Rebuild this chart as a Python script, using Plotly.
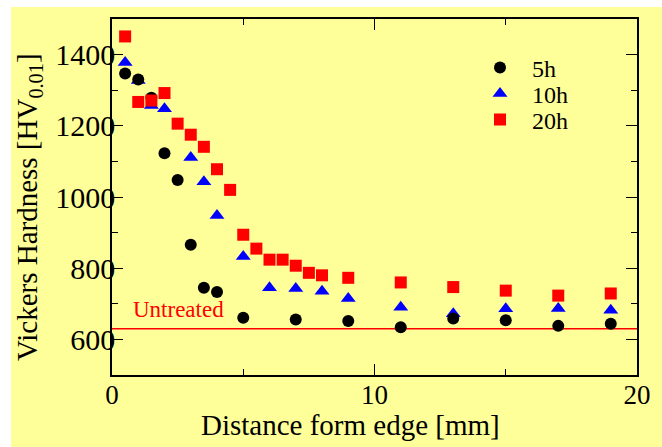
import plotly.graph_objects as go

# Data
x_5h = [0.5, 1, 1.5, 2, 2.5, 3, 3.5, 4, 5, 7, 9, 11, 13, 15, 17, 19]
y_5h = [1347, 1330, 1279, 1123, 1048, 866, 745, 733, 661, 656, 652, 634, 659, 654, 638, 644]

x_10h = [0.5, 1, 1.5, 2, 3, 3.5, 4, 5, 6, 7, 8, 9, 11, 13, 15, 17, 19]
y_10h = [1378, 1327, 1257, 1248, 1111, 1043, 948, 833, 745, 743, 735, 715, 690, 672, 686, 687, 682]

x_20h = [0.5, 1, 1.5, 2, 2.5, 3, 3.5, 4, 4.5, 5, 5.5, 6, 6.5, 7, 7.5, 8, 9, 11, 13, 15, 17, 19]
y_20h = [1451, 1267, 1271, 1292, 1206, 1175, 1141, 1078, 1020, 894, 855, 824, 824, 807, 787, 780, 773,
         760, 747, 737, 723, 729]

untreated_x = [0, 20]
untreated_value = 630

x_ticks = [0, 10, 20]
y_ticks = [600, 800, 1000, 1200, 1400]

FONT = "Liberation Serif"
BG = "#FFFF99"

fig = go.Figure()

fig.add_trace(go.Scatter(x=untreated_x, y=[untreated_value] * len(untreated_x), mode="lines",
                         line=dict(color="#FF0000", width=1.5), showlegend=False, hoverinfo="skip"))
fig.add_trace(go.Scatter(x=x_10h, y=y_10h, mode="markers", name="10h", legend="legend2",
                         marker=dict(symbol="triangle-up", size=13, color="#0000FF")))
fig.add_trace(go.Scatter(x=x_5h, y=y_5h, mode="markers", name="5h", legend="legend",
                         marker=dict(symbol="circle", size=12, color="black")))
fig.add_trace(go.Scatter(x=x_20h, y=y_20h, mode="markers", name="20h", legend="legend3",
                         marker=dict(symbol="square", size=12, color="#FF0000")))

axis_common = dict(showline=True, linecolor="black", linewidth=1.5, mirror="ticks",
                   ticks="inside", ticklen=11, tickwidth=1.2, tickcolor="black",
                   showgrid=False, zeroline=False)

fig.update_xaxes(range=[0, 20], tickvals=x_ticks, ticklabelstandoff=-5,
                 tickfont=dict(family=FONT, size=27, color="black"),
                 minor=dict(ticks="inside", ticklen=6, dtick=5, tick0=0, tickcolor="black", showgrid=False),
                 **axis_common)
fig.update_yaxes(range=[500, 1500], tickvals=y_ticks, ticklabelstandoff=-11,
                 tickfont=dict(family=FONT, size=30, color="black"),
                 minor=dict(ticks="inside", ticklen=6, dtick=100, tick0=500, tickcolor="black", showgrid=False),
                 **axis_common)

fig.add_annotation(x=0.72, y=684, xref="x", yref="y", text="Untreated", showarrow=False,
                   xanchor="left", yanchor="middle", font=dict(family=FONT, size=23, color="#FF0000"))
fig.add_annotation(x=(350 - 112) / 525, y=(375 - 425) / 356, xref="paper", yref="paper",
                   text="Distance form edge [mm]",
                   showarrow=False, xanchor="center", yanchor="middle",
                   font=dict(family=FONT, size=29, color="black"))
fig.add_annotation(x=(29 - 112) / 525, y=(375 - 207) / 356, xref="paper", yref="paper",
                   text="Vickers Hardness [HV<sub>0.01</sub>]", textangle=-90,
                   showarrow=False, xanchor="center", yanchor="middle",
                   font=dict(family=FONT, size=29, color="black"))

# white outer border (reference has a thin white strip at left and top)
fig.add_shape(type="rect", xref="paper", yref="paper", x0=-0.3, x1=(11 - 112) / 525, y0=-0.3, y1=1.2,
              fillcolor="white", line=dict(width=0), layer="above")
fig.add_shape(type="rect", xref="paper", yref="paper", x0=-0.3, x1=1.2, y0=(375 - 7) / 356, y1=1.2,
              fillcolor="white", line=dict(width=0), layer="above")

legend_common = dict(x=(468 - 112) / 525, xanchor="left", yanchor="middle",
                     bgcolor="rgba(0,0,0,0)", itemwidth=54,
                     font=dict(family=FONT, size=24, color="black"))

fig.update_layout(
    width=662, height=447,
    margin=dict(l=112, r=25, t=19, b=72),
    paper_bgcolor=BG, plot_bgcolor=BG,
    font=dict(family=FONT, color="black"),
    legend=dict(y=(375 - 68) / 356, **legend_common),
    legend2=dict(y=(375 - 94) / 356, **legend_common),
    legend3=dict(y=(375 - 120) / 356, **legend_common),
)

fig.write_html("out.html", config={"displayModeBar": False},
               post_script="document.body.style.margin='0';document.body.style.overflow='hidden';")
